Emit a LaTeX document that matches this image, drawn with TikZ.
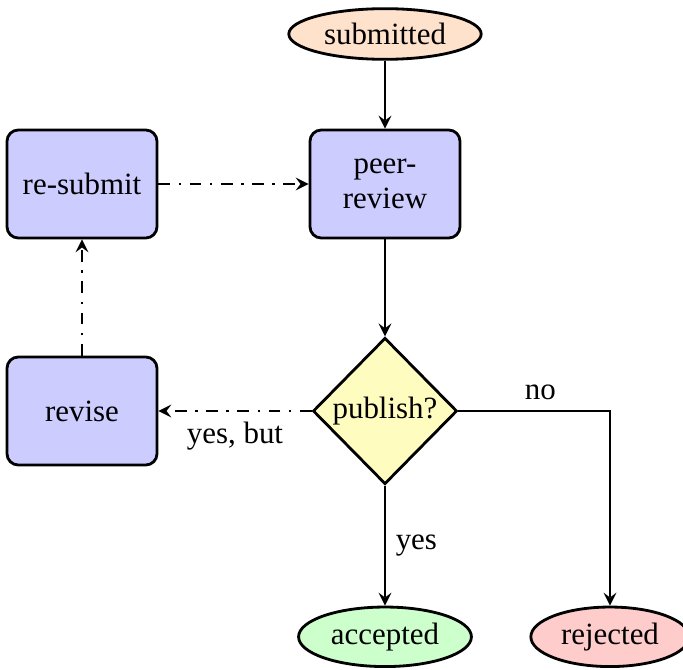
\documentclass[tikz,border=0pt]{standalone}
\usepackage{fontspec}
\setmainfont{Liberation Serif}
\usepackage{tikz}
\usetikzlibrary{shapes.geometric, arrows}
\usepackage{xcolor}
\tikzstyle{arrow} = [line width=1pt,->,>=stealth]
\tikzstyle{maybe} = [dash pattern=on 4.2pt off 3pt on 0.9pt off 3pt]
\tikzstyle{process} = [rectangle, rounded corners, minimum width=1.875cm,
minimum height=1.35cm, text centered, align=center, draw=black, line width=1pt,
fill=blue!20]
\tikzstyle{decision} = [diamond, minimum width=1.8cm, minimum height=1.83cm,
inner sep=1pt, text centered, draw=black, line width=1pt, fill=yellow!25]
\tikzstyle{state} = [ellipse, inner sep=2.5pt, minimum height=0.6cm, text centered,
draw=black, line width=1pt]
\definecolor{startcol}{HTML}{FFE2CC}
\definecolor{goodcol}{HTML}{CCFFCC}
\definecolor{badcol}{HTML}{FFCCCC}

\begin{document}
\begin{tikzpicture}[font=\fontsize{11}{12.5}\selectfont]
  \useasboundingbox (0,0) rectangle (8.5375,-8.375);
  % nodes
  \node [state, fill=startcol] (submitted) at (4.8125,-0.425) {submitted};
  \node [process] (review) at (4.8125,-2.30) {peer-\\review};
  \node [process] (resubmit) at (1.025,-2.30) {re-submit};
  \node [process] (revise) at (1.025,-5.1375) {revise};
  \node [decision] (publish) at (4.8125,-5.1375) {publish?};
  \node [state, fill=goodcol, minimum width=2.15cm, minimum height=0.72cm]
    (accepted) at (4.8125,-7.96) {accepted};
  \node [state, fill=badcol, minimum width=1.93cm, minimum height=0.72cm]
    (rejected) at (7.625,-7.96) {rejected};
  % edges
  \draw [arrow] (submitted) -- (review);
  \draw [arrow] (review) -- (publish);
  \draw [arrow] (publish) -- node [right] {yes} (accepted);
  \draw [arrow] (publish.east) -| node [pos=0.27, above] {no} (rejected.north);
  \draw [arrow, maybe] (publish) -- node [below, pos=0.5] {yes, but} (revise);
  \draw [arrow, maybe] (revise) -- (resubmit);
  \draw [arrow, maybe] (resubmit) -- (review);
\end{tikzpicture}
\end{document}
